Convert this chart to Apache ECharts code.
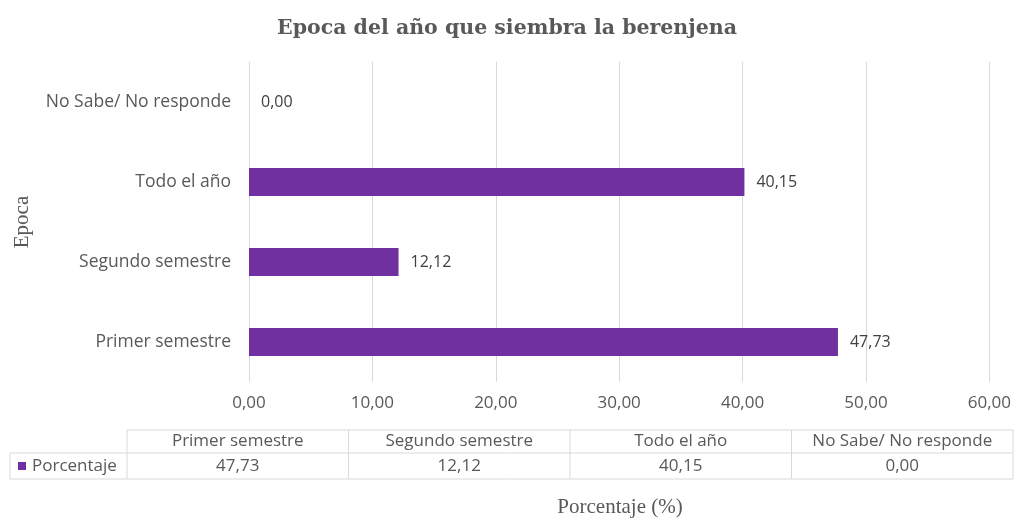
<!DOCTYPE html>
<html>
<head>
<meta charset="utf-8">
<script src="https://cdn.jsdelivr.net/npm/echarts@6/dist/echarts.min.js"></script>
<style>
html,body{margin:0;padding:0;background:#fff;}
#chart{width:1014px;height:518px;}
</style>
</head>
<body>
<div id="chart"></div>
<script>
// datos
var categorias = ['Primer semestre', 'Segundo semestre', 'Todo el año', 'No Sabe/ No responde'];
var porcentaje = [47.73, 12.12, 40.15, 0.00];
var ticks = [0, 10, 20, 30, 40, 50, 60];

var gris = '#595959';
var fmt = function (v) { return Number(v).toFixed(2).replace('.', ','); };

var myChart = echarts.init(document.getElementById('chart'));

// tabla de datos debajo del eje
var tablaX = 127, tablaW = 886, tablaY = 430, fila1 = 23, fila2 = 26, rotuloX = 10;
var colW = tablaW / categorias.length;
var borde = {stroke:'#d9d9d9', lineWidth:1};
var celdas = [];
celdas.push({type:'line', shape:{x1:tablaX,y1:tablaY,x2:tablaX+tablaW,y2:tablaY}, style:borde});
celdas.push({type:'line', shape:{x1:rotuloX,y1:tablaY+fila1,x2:tablaX+tablaW,y2:tablaY+fila1}, style:borde});
celdas.push({type:'line', shape:{x1:rotuloX,y1:tablaY+fila1+fila2,x2:tablaX+tablaW,y2:tablaY+fila1+fila2}, style:borde});
celdas.push({type:'line', shape:{x1:rotuloX,y1:tablaY+fila1,x2:rotuloX,y2:tablaY+fila1+fila2}, style:borde});
for (var i = 0; i <= categorias.length; i++) {
    celdas.push({type:'line', shape:{x1:tablaX+i*colW,y1:tablaY,x2:tablaX+i*colW,y2:tablaY+fila1+fila2}, style:borde});
}
categorias.forEach(function (c, i) {
    celdas.push({type:'text', x:tablaX+(i+0.5)*colW, y:tablaY+fila1/2,
        style:{text:c, fill:gris, font:'17px "Open Sans"', align:'center', verticalAlign:'middle'}});
    celdas.push({type:'text', x:tablaX+(i+0.5)*colW, y:tablaY+fila1+fila2/2,
        style:{text:fmt(porcentaje[i]), fill:gris, font:'17px "Open Sans"', align:'center', verticalAlign:'middle'}});
});
celdas.push({type:'rect', shape:{x:18,y:tablaY+fila1+9,width:8,height:8}, style:{fill:'#7030A0'}});
celdas.push({type:'text', x:32, y:tablaY+fila1+fila2/2,
    style:{text:'Porcentaje', fill:gris, font:'17px "Open Sans"', align:'left', verticalAlign:'middle'}});

var option = {
    backgroundColor: '#fff',
    animation: false,
    title: {
        text: 'Epoca del año que siembra la berenjena',
        left: 'center',
        top: 13,
        textStyle: {
            color: gris,
            fontFamily: '"DejaVu Serif", serif',
            fontSize: 20.5,
            fontWeight: 'bold'
        }
    },
    grid: {
        left: 249,
        right: 24,
        top: 62,
        bottom: 136,
        containLabel: false
    },
    xAxis: {
        type: 'value',
        min: 0,
        max: 60,
        interval: 10,
        axisLine: {show: false},
        axisTick: {show: false},
        splitLine: {lineStyle: {color: '#d9d9d9'}},
        axisLabel: {
            color: gris,
            fontFamily: '"Open Sans"',
            fontSize: 17,
            margin: 13,
            formatter: function (v) { return fmt(v); }
        }
    },
    yAxis: {
        type: 'category',
        data: categorias,
        name: 'Epoca',
        nameLocation: 'middle',
        nameGap: 216,
        nameRotate: 90,
        nameTextStyle: {
            color: gris,
            fontFamily: '"Liberation Serif", serif',
            fontSize: 21
        },
        axisLine: {show: false},
        axisTick: {show: false},
        axisLabel: {
            color: gris,
            fontFamily: '"Open Sans"',
            fontSize: 17.5,
            margin: 18
        }
    },
    series: [
        {
            name: 'Porcentaje',
            type: 'bar',
            barWidth: 28,
            itemStyle: {color: '#7030A0'},
            label: {
                show: true,
                position: 'right',
                distance: 12,
                color: '#404040',
                fontFamily: '"Open Sans"',
                fontSize: 16,
                formatter: function (p) { return fmt(p.value); }
            },
            data: porcentaje
        }
    ],
    graphic: celdas.concat([
        {type:'text', x:620, y:507,
         style:{text:'Porcentaje (%)', fill:gris, font:'21px "Liberation Serif"', align:'center', verticalAlign:'middle'}}
    ])
};
myChart.setOption(option);
</script>
</body>
</html>
